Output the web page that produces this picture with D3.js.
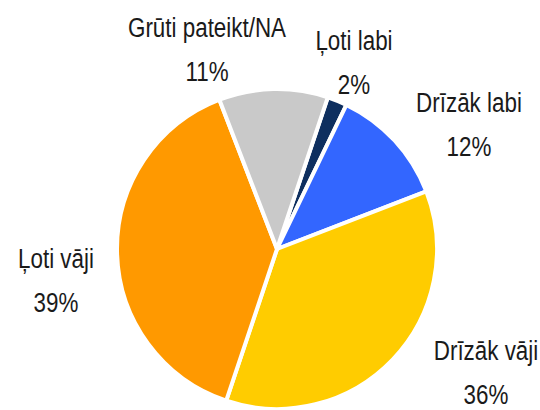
<!DOCTYPE html>
<html>
<head>
<meta charset="utf-8">
<script src="https://cdn.jsdelivr.net/npm/d3@7"></script>
<style>
  html, body { margin: 0; padding: 0; background: #fff; }
  text { font-family: "Liberation Sans", Arial, sans-serif; fill: #1a1a1a; }
</style>
</head>
<body>
<div id="chart"></div>
<script>
'use strict';

// ---------- Data ---------- //
var categories = ['Ļoti labi', 'Drīzāk labi', 'Drīzāk vāji', 'Ļoti vāji', 'Grūti pateikt/NA'];
var values = [2, 12, 36, 39, 11];
var colors = ['#0e2f5f', '#3366ff', '#ffcc00', '#ff9900', '#c9c9c9'];

// label anchors (centre x, first baseline)
var labelPos = [[354, 50], [469, 112], [486, 360], [56, 268], [207, 37]];

// ---------- Construct the pie ---------- //
var width = 540;
var height = 410;
var radius = 160;
var cx = 277, cy = 249;

var svg = d3.select('#chart').append('svg')
  .attr('width', width)
  .attr('height', height);

var pie = d3.pie()
  .sort(null)
  .startAngle(18.5 * Math.PI / 180)
  .endAngle((18.5 + 360) * Math.PI / 180)
  .value(function (d) { return d; });

var arc = d3.arc().innerRadius(0).outerRadius(radius);

var g = svg.append('g').attr('transform', 'translate(' + cx + ',' + cy + ')');

g.selectAll('path')
  .data(pie(values))
  .enter().append('path')
  .attr('d', arc)
  .attr('fill', function (d, i) { return colors[i]; })
  .attr('stroke', '#fff')
  .attr('stroke-width', 4)
  .attr('stroke-linejoin', 'round');

// labels
var labels = svg.selectAll('g.lbl')
  .data(categories)
  .enter().append('g')
  .attr('class', 'lbl')
  .attr('transform', function (d, i) {
    return 'translate(' + labelPos[i][0] + ',' + labelPos[i][1] + ') scale(0.8,1)';
  });

labels.append('text')
  .attr('text-anchor', 'middle')
  .attr('font-size', 28)
  .text(function (d) { return d; });

labels.append('text')
  .attr('text-anchor', 'middle')
  .attr('font-size', 28)
  .attr('y', 44)
  .text(function (d, i) { return values[i] + '%'; });
</script>
</body>
</html>
